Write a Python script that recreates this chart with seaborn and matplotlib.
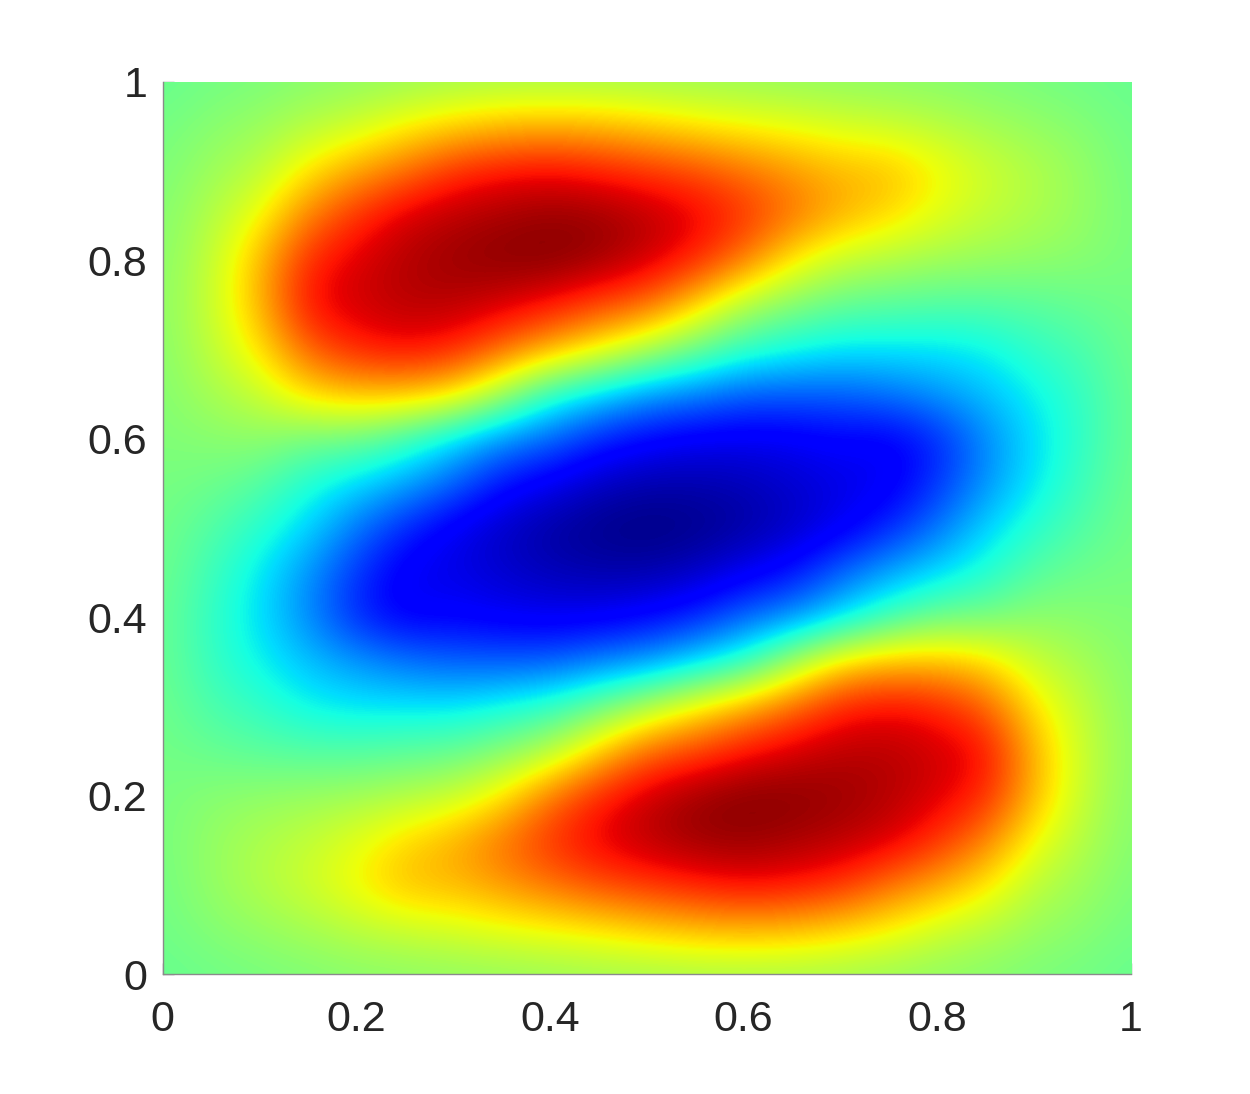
import numpy as np
import pandas as pd
import matplotlib
matplotlib.use("Agg")
import matplotlib.pyplot as plt
import seaborn as sns

tick_values = [0, 0.2, 0.4, 0.6, 0.8, 1]
tick_labels = ["0", "0.2", "0.4", "0.6", "0.8", "1"]

# columns run x = 0 .. 1 in steps of 0.05
x_nodes = [0, .05, .1, .15, .2, .25, .3, .35, .4, .45, .5, .55, .6, .65, .7, .75, .8, .85, .9, .95, 1]
# rows run from y = 1 down to y = 0
y_nodes = [1, .95, .9, .85, .8, .75, .7, .65, .6, .55, .5, .45, .4, .35, .3, .25, .2, .15, .1, .05, 0]
field = [
    [-.05, -.02, 0, .03, .05, .07, .09, .1, .1, .1, .09, .08, .07, .06, .05, .04, .03, .01, -.01, -.03, -.05],
    [-.02, .03, .07, .14, .2, .3, .37, .42, .44, .42, .38, .33, .29, .26, .22, .19, .15, .1, .06, .02, -.03],
    [0, .08, .15, .33, .47, .58, .72, .78, .8, .76, .71, .66, .58, .5, .43, .42, .3, .2, .13, .06, -.02],
    [.02, .13, .28, .55, .72, .85, .9, .93, .96, .95, .9, .83, .72, .58, .45, .36, .25, .17, .12, .06, -.01],
    [.03, .17, .42, .74, .84, .91, .95, .98, .99, .95, .87, .75, .57, .32, .18, .13, .09, .07, .05, .03, -.01],
    [.04, .18, .43, .8, .86, .9, .9, .85, .78, .68, .6, .38, .13, .02, -.06, -.08, -.1, -.1, -.08, -.05, -.02],
    [.03, .16, .33, .62, .75, .8, .75, .6, .45, .3, .13, -.04, -.18, -.25, -.3, -.3, -.3, -.27, -.18, -.12, -.03],
    [.02, .1, .18, .36, .42, .42, .35, .1, -.2, -.33, -.45, -.5, -.57, -.57, -.56, -.52, -.45, -.37, -.27, -.17, -.04],
    [.01, .03, .05, -.02, -.03, -.15, -.32, -.47, -.55, -.68, -.75, -.79, -.8, -.79, -.76, -.78, -.68, -.48, -.31, -.18, -.04],
    [-.01, -.03, -.09, -.22, -.32, -.42, -.55, -.72, -.8, -.88, -.92, -.92, -.9, -.86, -.82, -.8, -.65, -.46, -.29, -.15, -.03],
    [-.02, -.1, -.2, -.33, -.52, -.68, -.8, -.88, -.94, -.98, -1, -.98, -.94, -.88, -.8, -.68, -.52, -.33, -.2, -.1, -.02],
    [-.03, -.15, -.29, -.46, -.65, -.8, -.82, -.86, -.9, -.92, -.92, -.88, -.8, -.72, -.55, -.42, -.32, -.22, -.09, -.03, -.01],
    [-.04, -.18, -.31, -.48, -.68, -.78, -.76, -.79, -.8, -.79, -.75, -.68, -.55, -.47, -.32, -.15, -.03, -.02, .05, .03, .01],
    [-.04, -.17, -.27, -.37, -.45, -.52, -.56, -.57, -.57, -.5, -.45, -.33, -.2, .1, .35, .42, .42, .36, .18, .1, .02],
    [-.03, -.12, -.18, -.27, -.3, -.3, -.3, -.25, -.18, -.04, .13, .3, .45, .6, .75, .8, .75, .62, .33, .16, .03],
    [-.02, -.05, -.08, -.1, -.1, -.08, -.06, .02, .13, .38, .6, .68, .78, .85, .9, .9, .86, .8, .43, .18, .04],
    [-.01, .03, .05, .07, .09, .13, .18, .32, .57, .75, .87, .95, .99, .98, .95, .91, .84, .74, .42, .17, .03],
    [-.01, .06, .12, .17, .25, .36, .45, .58, .72, .83, .9, .95, .96, .93, .9, .85, .72, .55, .28, .13, .02],
    [-.02, .06, .13, .2, .3, .42, .43, .5, .58, .66, .71, .76, .8, .78, .72, .58, .47, .33, .15, .08, 0],
    [-.03, .02, .06, .1, .15, .19, .22, .26, .29, .33, .38, .42, .44, .42, .37, .3, .2, .14, .07, .03, -.02],
    [-.05, -.03, -.01, .01, .03, .04, .05, .06, .07, .08, .09, .1, .1, .1, .09, .07, .05, .03, 0, -.02, -.05],
]

plt.rcParams['font.family'] = ['Liberation Sans', 'DejaVu Sans']

df = pd.DataFrame(field, index=y_nodes, columns=x_nodes).sort_index()

fig = plt.figure(figsize=(12.5, 10.94), dpi=100)
ax = fig.add_axes([162.5 / 1250, (1094 - 974) / 1094, 968.5 / 1250, 892 / 1094])

sns.heatmap(df, ax=ax, cmap='jet', vmin=-1, vmax=1, cbar=False,
            xticklabels=False, yticklabels=False, shading='gouraud')

n = len(x_nodes) - 1
# same table again, smoothed on the value side so yellow and cyan stay saturated
ax.imshow(df.values, cmap='jet', vmin=-1, vmax=1, origin='lower', aspect='auto',
          interpolation='bicubic', interpolation_stage='data',
          extent=(-0.5, n + 0.5, -0.5, n + 0.5), zorder=1.5)

ax.set_xlim(0, n)
ax.set_ylim(0, n)
ax.set_xlabel('')
ax.set_ylabel('')
ax.set_axisbelow(True)
ax.set_xticks(np.array(tick_values) * n, tick_labels)
ax.set_yticks(np.array(tick_values) * n, tick_labels)
ax.tick_params(axis='x', direction='in', length=8, width=1, color='#8a8a8a',
               labelsize=31, labelcolor='#262626', pad=19)
ax.tick_params(axis='y', direction='in', length=8, width=1, color='#8a8a8a',
               labelsize=31, labelcolor='#262626', pad=11)

for side in ['left', 'bottom']:
    ax.spines[side].set_visible(True)
    ax.spines[side].set_color('#8a8a8a')
    ax.spines[side].set_linewidth(1.0)

plt.savefig('out.png', dpi=100)
plt.close()
